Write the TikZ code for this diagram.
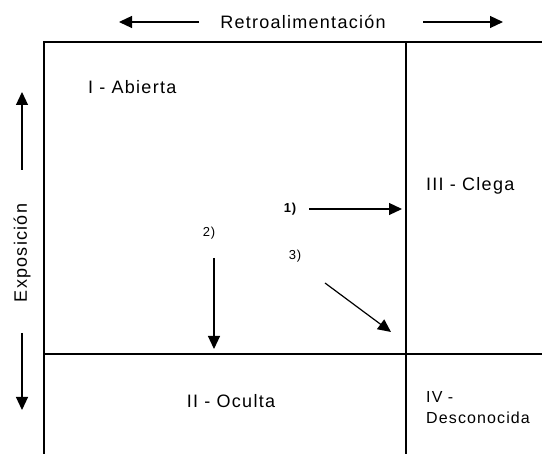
\documentclass[tikz,border=0pt]{standalone}
\usepackage{fontspec}
\setmainfont{Liberation Sans}[LetterSpace=7]
\usetikzlibrary{arrows.meta}

\begin{document}
\begin{tikzpicture}[x=1pt,y=-1pt,
	flecha/.style={-{Triangle[length=13pt,width=12pt]}, line width=1.2pt},
	linea/.style={line width=1.6pt},
	rotulo/.style={font=\fontsize{18}{21}\selectfont, inner sep=0pt},
	chico/.style={font=\fontsize{16}{21}\selectfont, inner sep=0pt, align=left},
	numero/.style={font=\fontsize{13}{15}\selectfont, inner sep=0pt}]
	\useasboundingbox (0,0) rectangle (542,454);

	% cuadro
	\coordinate (TL) at (44,42);
	\coordinate (TR) at (542,42);
	\coordinate (BL) at (44,454);
	\coordinate (VT) at (406,42);
	\coordinate (VB) at (406,454);
	\coordinate (HL) at (44,354);
	\coordinate (HR) at (542,354);
	\draw [linea] (TR) -- (TL) -- (BL);
	\draw [linea] (VT) -- (VB);
	\draw [linea] (HL) -- (HR);

	% ejes
	\node[rotulo] (R) at (303,22) {Retroalimentación};
	\coordinate (R1) at (199,22);
	\coordinate (R2) at (119,22);
	\coordinate (R3) at (423,22);
	\coordinate (R4) at (503,22);
	\draw [flecha] (R1) -- (R2);
	\draw [flecha] (R3) -- (R4);

	\node[rotulo, rotate=90] (E) at (22,253) {Exposición};
	\coordinate (E1) at (22,170);
	\coordinate (E2) at (22,92);
	\coordinate (E3) at (22,333);
	\coordinate (E4) at (22,410);
	\draw [flecha] (E1) -- (E2);
	\draw [flecha] (E3) -- (E4);

	% areas
	\node[rotulo, anchor=west] (A) at (88,87) {I - Abierta};
	\node[rotulo, anchor=west] (C) at (426,186) {III - Clega};
	\node[rotulo] (O) at (231,401) {II - Oculta};
	\node[chico, anchor=north west] (D) at (426,391) {IV -\\Desconocida};

	% movimientos
	\node[numero, font=\bfseries\fontsize{13}{15}\selectfont] (n1) at (290,209) {1)};
	\node[numero] (n2) at (209,233) {2)};
	\node[numero] (n3) at (295,256) {3)};
	\coordinate (a1) at (309,209);
	\coordinate (b1) at (402,209);
	\coordinate (a2) at (214,258);
	\coordinate (b2) at (214,349);
	\coordinate (a3) at (325,283);
	\coordinate (b3) at (391,332);
	\draw [flecha] (a1) -- (b1);
	\draw [flecha] (a2) -- (b2);
	\draw [flecha] (a3) -- (b3);

\end{tikzpicture}
\end{document}
